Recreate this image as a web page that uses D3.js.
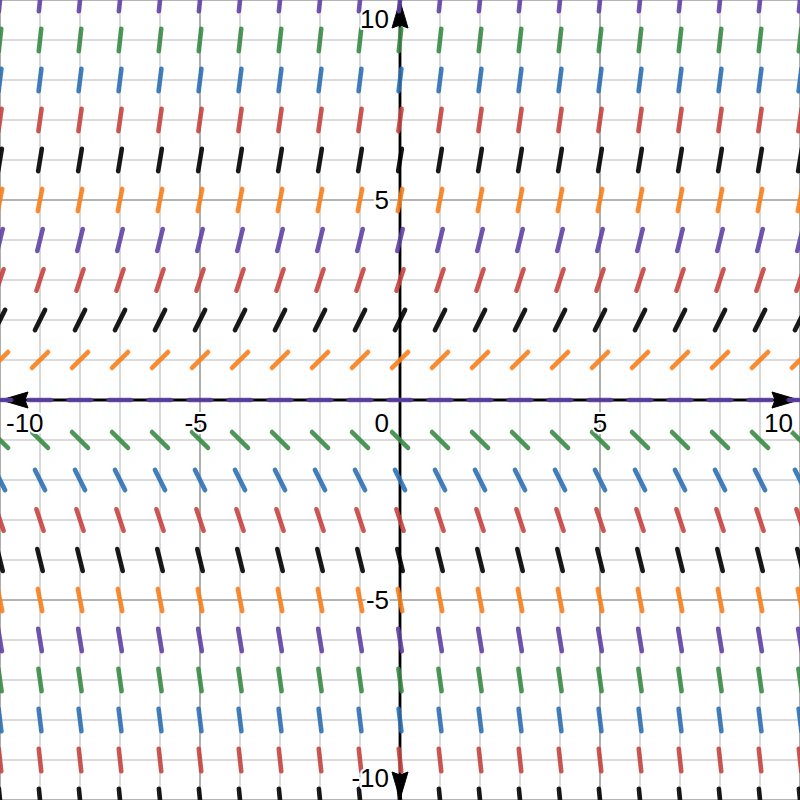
<!DOCTYPE html>
<html>
<head>
<meta charset="utf-8">
<script src="https://cdn.jsdelivr.net/npm/d3@7"></script>
<style>
  html, body { margin: 0; padding: 0; background: #fff; }
  svg { display: block; }
</style>
</head>
<body>
<svg id="chart" width="800" height="800"></svg>
<script>
// ---- data ----
const xColumns = [-10,-9,-8,-7,-6,-5,-4,-3,-2,-1,0,1,2,3,4,5,6,7,8,9,10];
const yRows    = [10,9,8,7,6,5,4,3,2,1,0,-1,-2,-3,-4,-5,-6,-7,-8,-9,-10];
const rowSlopes = [10,9,8,7,6,5,4,3,2,1,0,-1,-2,-3,-4,-5,-6,-7,-8,-9,-10];
const rowColors = ["purple","green","blue","red","black","orange","purple","red","black","orange","purple",
                   "green","blue","red","black","orange","purple","green","blue","red","black"];
const xTickLabels = ["-10","-5","0","5","10"];
const yTickLabels = ["10","5","-5","-10"];

const palette = {red:"#c74440", blue:"#2d70b3", green:"#388c46", purple:"#6042a6", orange:"#fa7e19", black:"#000000"};

const W = 800, H = 800;
const svg = d3.select("#chart");
const x = d3.scaleLinear().domain([-10, 10]).range([0, W]);
const y = d3.scaleLinear().domain([-10, 10]).range([H, 0]);

// grid
const minor = d3.range(-10, 11, 1);
const gGrid = svg.append("g");
gGrid.selectAll("line.vx").data(minor).join("line")
  .attr("x1", d => x(d)).attr("x2", d => x(d)).attr("y1", 0).attr("y2", H)
  .attr("stroke", d => d % 5 === 0 ? "#9b9b9b" : "#cfcfcf").attr("stroke-width", 1.6);
gGrid.selectAll("line.hy").data(minor).join("line")
  .attr("y1", d => y(d)).attr("y2", d => y(d)).attr("x1", 0).attr("x2", W)
  .attr("stroke", d => d % 5 === 0 ? "#9b9b9b" : "#cfcfcf").attr("stroke-width", 1.6);

// axes
const gAxes = svg.append("g");
gAxes.append("line").attr("x1", x(-10)).attr("x2", x(10)).attr("y1", y(0)).attr("y2", y(0))
  .attr("stroke", "#000").attr("stroke-width", 2.8);
gAxes.append("line").attr("x1", x(0)).attr("x2", x(0)).attr("y1", y(-10)).attr("y2", y(10))
  .attr("stroke", "#000").attr("stroke-width", 2.8);
const arrow = "M0,0 L-27,-8 L-24,0 L-27,8 Z";
[[x(-10)+1, y(0), 180],[x(10)-1, y(0), 0],[x(0), y(10)+1, -90],[x(0), y(-10)-1, 90]].forEach(([ax, ay, r]) => {
  gAxes.append("path").attr("d", arrow).attr("fill", "#000").attr("stroke", "#000").attr("stroke-width", 1)
    .attr("stroke-linejoin", "round")
    .attr("transform", `translate(${ax},${ay}) rotate(${r})`);
});

// slope field segments
const L = 11.3; // half length in px
const segs = [];
yRows.forEach((yv, i) => {
  xColumns.forEach(xv => {
    segs.push({x: xv, y: yv, m: rowSlopes[i], c: palette[rowColors[i]]});
  });
});
svg.append("g").selectAll("line").data(segs).join("line")
  .attr("x1", d => { const a = Math.atan(d.m); return x(d.x) - L*Math.cos(a); })
  .attr("x2", d => { const a = Math.atan(d.m); return x(d.x) + L*Math.cos(a); })
  .attr("y1", d => { const a = Math.atan(d.m); return y(d.y) + L*Math.sin(a); })
  .attr("y2", d => { const a = Math.atan(d.m); return y(d.y) - L*Math.sin(a); })
  .attr("stroke", d => d.c).attr("stroke-opacity", 0.9)
  .attr("stroke-width", 4.6).attr("stroke-linecap", "round");

// labels
const gLab = svg.append("g").attr("font-family", "Arial, 'Liberation Sans', sans-serif").attr("font-size", 26);
function label(txt, px, py, anchor) {
  gLab.append("text").text(txt).attr("x", px).attr("y", py).attr("text-anchor", anchor)
    .attr("fill", "#000").attr("stroke", "#fff").attr("stroke-width", 4).attr("paint-order", "stroke")
    .attr("stroke-linejoin", "round");
}
// x labels (digits centered under tick; minus hangs left)
const xPos = {"-10": [6, "start"], "-5": [x(-5)+7.5, "end"], "0": [x(0)-11, "end"], "5": [x(5), "middle"], "10": [W-7, "end"]};
xTickLabels.forEach(t => label(t, xPos[t][0], y(0)+32, xPos[t][1]));
const yPos = {"10": 28, "5": y(5)+9, "-5": y(-5)+9, "-10": 787};
yTickLabels.forEach(t => label(t, x(0)-11, yPos[t], "end"));
</script>
</body>
</html>
